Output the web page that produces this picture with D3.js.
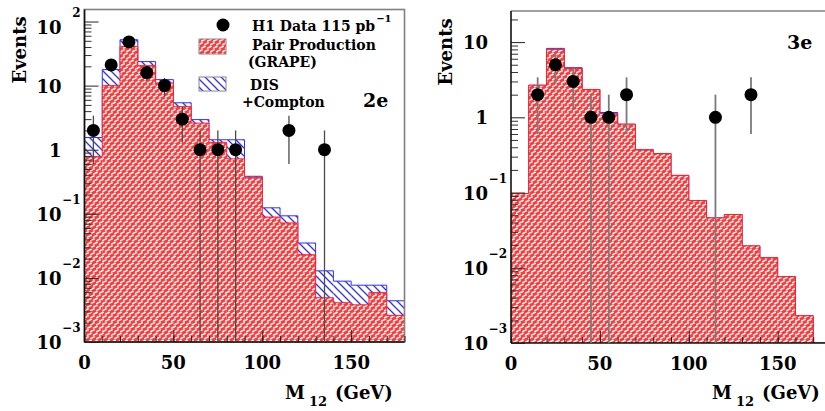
<!DOCTYPE html>
<html><head><meta charset="utf-8">
<script src="https://cdn.jsdelivr.net/npm/d3@7"></script>
<style>body{margin:0;background:#fff} svg{display:block}</style>
</head><body>
<svg id="c" width="825" height="411"></svg>
<script>
// ---- data ----
const binLow = [0,10,20,30,40,50,60,70,80,90,100,110,120,130,140,150,160,170];
const binWidth = 10;

// 2e panel
const pair2e = [0.78,10,41,20.5,11,4.7,2.6,1.3,0.72,0.37,0.089,0.072,0.023,0.0049,0.0041,0.0038,0.0059,0.0026];
const disCompton2e = [0.77,7.8,11,3.2,1.4,0.7,0.35,0.13,0.71,0.015,0.035,0.021,0.012,0.008,0.0048,0.0039,0.0018,0.0018];
const dataX2e = [5,15,25,35,45,55,65,75,85,115,135];
const dataY2e = [2,21,48,16,10,3,1,1,1,2,1];
const dataErr2e = [1.4,4.6,6.9,4,3.2,1.7,1,1,1,1.4,1];

// 3e panel
const pair3e = [0.097,2.67,8.0,4.45,2.34,1.12,0.81,0.37,0.33,0.169,0.078,0.046,0.051,0.0195,0.0136,0.0076,0.0023,0];
const disCompton3e = [0,0,0.25,0.12,0,0.04,0,0,0,0,0,0,0,0,0,0,0,0];
const dataX3e = [15,25,35,45,55,65,115,135];
const dataY3e = [2,5,3,1,1,2,1,2];
const dataErr3e = [1.4,2.2,1.7,1,1,1.4,1,1.4];

const xTickLabels = [0,50,100,150];
const xMinorTicks = [0,10,20,30,40,50,60,70,80,90,100,110,120,130,140,150,160,170,180];
const yPowers2e = [-3,-2,-1,0,1,2];
const yPowers3e = [-3,-2,-1,0,1];
const legendLabels = ["H1 Data 115 pb", "Pair Production", "(GRAPE)", "DIS", "+Compton"];

// ---- drawing ----
const svg = d3.select("#c");
const defs = svg.append("defs");
const FONT = "'DejaVu Serif', serif";

// red pattern: red with white slanted dashes
const rp = defs.append("pattern").attr("id","redhatch").attr("patternUnits","userSpaceOnUse")
  .attr("width",6).attr("height",7);
rp.append("rect").attr("width",6).attr("height",7).attr("fill","#ff3a3a");
rp.append("path").attr("d","M0.6,2.6 L4.2,0.9 M3.6,6.1 L7.2,4.4 M-2.4,6.1 L1.2,4.4")
  .attr("stroke","#fff").attr("stroke-width",1.55).attr("stroke-linecap","round");
// blue pattern: diagonal \\\ lines
const bp = defs.append("pattern").attr("id","bluehatch").attr("patternUnits","userSpaceOnUse")
  .attr("width",8).attr("height",8);
bp.append("rect").attr("width",8).attr("height",8).attr("fill","#fff");
bp.append("path").attr("d","M-2,-2 L10,10 M-2,6 L2,10 M6,-2 L10,2")
  .attr("stroke","#2f2fff").attr("stroke-width",1.3);

function panel(cfg){
  const x = d3.scaleLinear().domain([0,180]).range([cfg.left, cfg.right]);
  const y = d3.scaleLog().domain([1e-3, cfg.yMax]).range([cfg.bottom, cfg.top]).clamp(true);
  const g = svg.append("g");
  const clipId = "clip"+cfg.id;
  defs.append("clipPath").attr("id",clipId).append("rect")
    .attr("x",cfg.left).attr("y",cfg.top).attr("width",cfg.right-cfg.left).attr("height",cfg.bottom-cfg.top);
  const hg = g.append("g").attr("clip-path",`url(#${clipId})`);
  const total = cfg.pair.map((v,i)=>v+cfg.dis[i]);
  const yv = v => v>0 ? y(v) : cfg.bottom;

  function stepPath(vals){
    let p = `M${x(binLow[0])},${cfg.bottom}`;
    vals.forEach((v,i)=>{ p += `L${x(binLow[i])},${yv(v)}L${x(binLow[i]+binWidth)},${yv(v)}`; });
    p += `L${x(binLow[binLow.length-1]+binWidth)},${cfg.bottom}`;
    return p;
  }
  // total (blue hatched)
  hg.selectAll("rect.tot").data(total).join("rect").attr("class","tot")
    .attr("x",(d,i)=>x(binLow[i])).attr("width",(d,i)=>x(binLow[i]+binWidth)-x(binLow[i]))
    .attr("y",d=>yv(d)).attr("height",d=>cfg.bottom-yv(d)).attr("fill","url(#bluehatch)");
  hg.append("path").attr("d",stepPath(total)).attr("fill","none").attr("stroke","#3030ff").attr("stroke-width",1);
  // pair production (red)
  hg.selectAll("rect.pair").data(cfg.pair).join("rect").attr("class","pair")
    .attr("x",(d,i)=>x(binLow[i])).attr("width",(d,i)=>x(binLow[i]+binWidth)-x(binLow[i]))
    .attr("y",d=>yv(d)).attr("height",d=>cfg.bottom-yv(d)).attr("fill","url(#redhatch)");
  hg.append("path").attr("d",stepPath(cfg.pair)).attr("fill","none").attr("stroke","#ff2020").attr("stroke-width",1);

  // frame
  if (cfg.fullFrame){
    g.append("rect").attr("x",cfg.left).attr("y",cfg.top).attr("width",cfg.right-cfg.left)
      .attr("height",cfg.bottom-cfg.top).attr("fill","none").attr("stroke","#808080").attr("stroke-width",1.6);
  } else {
    g.append("line").attr("x1",cfg.left).attr("x2",825).attr("y1",cfg.top).attr("y2",cfg.top)
      .attr("stroke","#808080").attr("stroke-width",1.6);
  }
  // x axis
  const xa = g.append("g").attr("transform",`translate(0,${cfg.bottom})`)
    .call(d3.axisBottom(x).tickValues(xMinorTicks).tickSize(-6).tickFormat(""));
  xa.select(".domain").remove();
  const xb = g.append("g").attr("transform",`translate(0,${cfg.bottom})`)
    .call(d3.axisBottom(x).tickValues(xTickLabels.filter(v=>v>0)).tickSize(-12).tickFormat(""));
  xb.select(".domain").remove();
  g.selectAll(".tick line").attr("stroke","#222").attr("stroke-width",1);
  g.append("line").attr("x1",cfg.left).attr("x2",cfg.fullFrame?cfg.right:825)
    .attr("y1",cfg.bottom).attr("y2",cfg.bottom).attr("stroke","#111").attr("stroke-width",1.6);
  xTickLabels.forEach(v=>{
    g.append("text").attr("x",x(v)).attr("y",cfg.bottom+27).attr("text-anchor","middle")
      .attr("font-family",FONT).attr("font-weight","bold").attr("font-size",18).text(v);
  });
  // y axis
  const minor = [];
  for (let p=-3; p<3; p++) for (let k=2;k<=9;k++){ const v=k*Math.pow(10,p); if (v<cfg.yMax) minor.push(v); }
  const majors = cfg.powers.map(p=>Math.pow(10,p));
  const ya = g.append("g").attr("transform",`translate(${cfg.left},0)`)
    .call(d3.axisLeft(y).tickValues(minor).tickSize(-7).tickFormat(""));
  ya.select(".domain").remove();
  const yb = g.append("g").attr("transform",`translate(${cfg.left},0)`)
    .call(d3.axisLeft(y).tickValues(majors).tickSize(-14).tickFormat(""));
  yb.select(".domain").remove();
  ya.selectAll(".tick line").attr("stroke","#333");
  yb.selectAll(".tick line").attr("stroke","#222");
  g.append("line").attr("x1",cfg.left).attr("x2",cfg.left).attr("y1",cfg.top).attr("y2",cfg.bottom)
    .attr("stroke","#111").attr("stroke-width",1.6);
  cfg.powers.forEach(p=>{
    const ty = y(Math.pow(10,p));
    const shift = ty < 30 ? 5 : 0;
    const base = p===0 ? "1" : "10";
    g.append("text").attr("x",cfg.left-23).attr("y",ty+shift+7).attr("text-anchor","end")
      .attr("font-family",FONT).attr("font-weight","bold").attr("font-size",18).text(base);
    if (p<0 || p>1){
      g.append("text").attr("x",cfg.left-4).attr("y",ty+shift-10).attr("text-anchor","end")
        .attr("font-family",FONT).attr("font-weight","bold").attr("font-size",12)
        .text(p<0 ? "\u2212"+(-p) : String(p));
    }
  });
  // axis titles
  g.append("text").attr("transform",`translate(${cfg.evX},${cfg.evY}) rotate(-90)`).attr("text-anchor","middle")
    .attr("font-family",FONT).attr("font-weight","bold").attr("font-size",18).text("Events");
  const t = g.append("text").attr("x",cfg.mX).attr("y",399)
    .attr("font-family",FONT).attr("font-weight","bold").attr("font-size",18);
  t.append("tspan").text("M");
  t.append("tspan").attr("font-size",13).attr("dx",4).attr("dy",7).text("12");
  t.append("tspan").attr("dy",-7).attr("dx",8).text("(GeV)");

  // data points
  const dg = g.append("g");
  cfg.dx.forEach((xv,i)=>{
    const v = cfg.dy[i], e = cfg.de[i];
    const y1 = y(v+e), y2 = (v-e)>0 ? y(v-e) : cfg.bottom;
    dg.append("line").attr("x1",x(xv)).attr("x2",x(xv)).attr("y1",y1).attr("y2",y2)
      .attr("stroke",cfg.errColor).attr("stroke-width",cfg.errWidth);
  });
  dg.selectAll("circle").data(cfg.dy).join("circle")
    .attr("cx",(d,i)=>x(cfg.dx[i])).attr("cy",d=>y(d)).attr("r",6.5).attr("fill","#000");

  // channel label
  g.append("text").attr("x",cfg.chX).attr("y",cfg.chY).attr("font-family",FONT)
    .attr("font-weight","bold").attr("font-size",19).text(cfg.channel);
  return {x,y,g};
}

panel({id:"L", left:84.5, right:404.5, top:9.5, bottom:342, yMax:154, pair:pair2e, dis:disCompton2e,
  dx:dataX2e, dy:dataY2e, de:dataErr2e, powers:yPowers2e, fullFrame:true, errColor:"#4a4a4a", errWidth:1.3,
  evX:26, evY:50, mX:285, channel:"2e", chX:363, chY:107});
panel({id:"R", left:511, right:831, top:11, bottom:343, yMax:25.9, pair:pair3e, dis:disCompton3e,
  dx:dataX3e, dy:dataY3e, de:dataErr3e, powers:yPowers3e, fullFrame:false, errColor:"#7a7a7a", errWidth:1.8,
  evX:452, evY:52, mX:712, channel:"3e", chX:787, chY:49});

// legend (2e panel)
const lg = svg.append("g").attr("font-family",FONT).attr("font-weight","bold").attr("font-size",14);
lg.append("circle").attr("cx",223).attr("cy",25).attr("r",6.5).attr("fill","#000");
const l1 = lg.append("text").attr("x",252).attr("y",31);
l1.append("tspan").text(legendLabels[0]);
l1.append("tspan").attr("font-size",10).attr("dx",1).attr("dy",-9).text("\u22121");
lg.append("rect").attr("x",199).attr("y",39).attr("width",27).attr("height",15)
  .attr("fill","url(#redhatch)").attr("stroke","#888").attr("stroke-width",1);
lg.append("text").attr("x",252).attr("y",50).text(legendLabels[1]);
lg.append("text").attr("x",248).attr("y",67).text(legendLabels[2]);
lg.append("rect").attr("x",199).attr("y",77).attr("width",27).attr("height",14)
  .attr("fill","url(#bluehatch)").attr("stroke","#888").attr("stroke-width",1);
lg.append("text").attr("x",250).attr("y",90).text(legendLabels[3]);
lg.append("text").attr("x",242).attr("y",107).text(legendLabels[4]);
</script>
</body></html>
